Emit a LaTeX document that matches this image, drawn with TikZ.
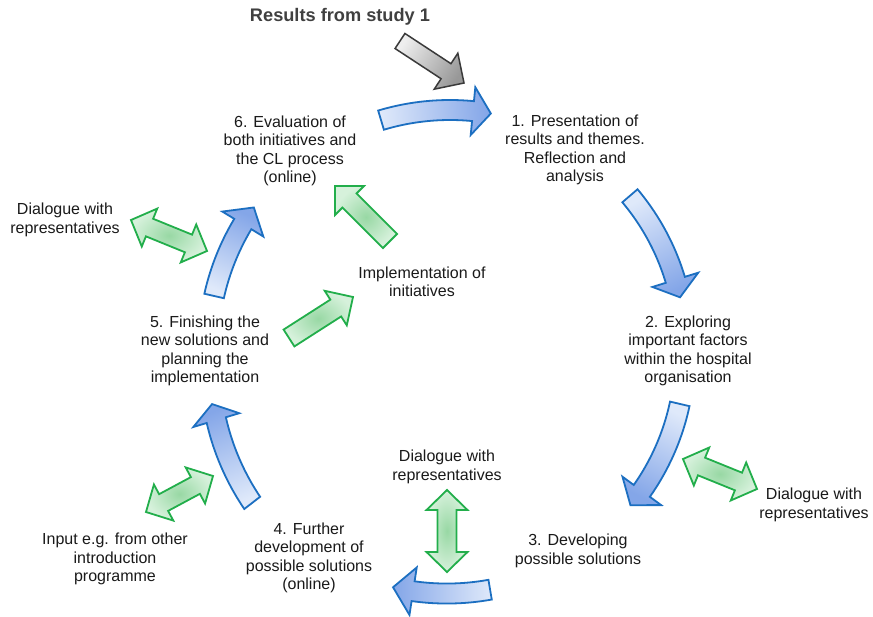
\documentclass[tikz,border=0pt]{standalone}
\usepackage{fontspec}
\setmainfont{Liberation Sans}
\usetikzlibrary{calc}

\definecolor{blueL}{HTML}{DFE9FA}
\definecolor{blueD}{HTML}{84A6E8}
\definecolor{blueS}{HTML}{1C6FC1}
\definecolor{greenL}{HTML}{D6F1DB}
\definecolor{greenM}{HTML}{98D8A4}
\definecolor{greenS}{HTML}{22AE4B}
\definecolor{grayL}{HTML}{EEEEEE}
\definecolor{grayD}{HTML}{989898}
\definecolor{grayS}{HTML}{3A3A3A}
\definecolor{titlegray}{HTML}{404040}
\definecolor{textgray}{HTML}{1A1A1A}

% centre of the cycle and block arrow dimensions
\def\cx{450}
\def\cy{350}
\def\shaftw{10}
\def\headw{24}

% curved block arrow on the cycle
% #1 radius at tail, #2 radius at head, #3 tail angle, #4 head base angle,
% #5 tip angle, #6 shading angle
\newcommand\cyclearrow[6]{%
  \def\rr{((#1)+((#2)-(#1))*(\x-(#3))/((#4)-(#3)))}%
  \path[cyclestep, shading angle=#6]
    plot[domain=#3:#4, samples=40]
      ({\cx+(\rr+\shaftw)*cos(\x)},{\cy+(\rr+\shaftw)*sin(\x)})
    -- ({\cx+(#2+\headw)*cos(#4)},{\cy+(#2+\headw)*sin(#4)})
    -- ({\cx+(#2)*cos(#5)},{\cy+(#2)*sin(#5)})
    -- ({\cx+(#2-\headw)*cos(#4)},{\cy+(#2-\headw)*sin(#4)})
    -- plot[domain=#4:#3, samples=40]
      ({\cx+(\rr-\shaftw)*cos(\x)},{\cy+(\rr-\shaftw)*sin(\x)})
    -- cycle;}

% straight double-headed block arrow between two named tips
\newcommand\twoway[2]{%
  \coordinate (h1) at ($(#1)!20pt!(#2)$);
  \coordinate (h2) at ($(#2)!20pt!(#1)$);
  \path[greenstep] (#1)
    -- ($(h1)!20.5pt!90:(#2)$) -- ($(h1)!9.5pt!90:(#2)$)
    -- ($(h2)!9.5pt!-90:(#1)$) -- ($(h2)!20.5pt!-90:(#1)$)
    -- (#2)
    -- ($(h2)!20.5pt!90:(#1)$) -- ($(h2)!9.5pt!90:(#1)$)
    -- ($(h1)!9.5pt!-90:(#2)$) -- ($(h1)!20.5pt!-90:(#2)$)
    -- cycle;}

% straight single-headed block arrow from tail centre #2 to tip #3
\newcommand\oneway[5]{% #1 style, #2 tail, #3 tip, #4 shaft half width, #5 head half width / length
  \coordinate (hb) at ($(#3)!#5!(#2)$);
  \path[#1] ($(#2)!#4!90:(#3)$) -- ($(hb)!#4!90:(#3)$) -- ($(hb)!#5!90:(#3)$)
    -- (#3)
    -- ($(hb)!#5!-90:(#3)$) -- ($(hb)!#4!-90:(#3)$) -- ($(#2)!#4!-90:(#3)$)
    -- cycle;}

\begin{document}
\begin{tikzpicture}[x=1pt, y=-1pt,
  cyclestep/.style={draw=blueS, line width=1.8pt, top color=blueD, bottom color=blueL},
  greenstep/.style={draw=greenS, line width=1.8pt, inner color=greenM, outer color=greenL},
  graystep/.style={draw=grayS, line width=1.5pt, left color=grayL, right color=grayD, shading angle=-32.7+90},
  lbl/.style={align=center, inner sep=0pt, text=textgray,
    font=\fontsize{16}{18.5}\selectfont},
  title/.style={inner sep=0pt, text=titlegray,
    font=\fontsize{18.2}{21}\selectfont\bfseries}]

\fill[white] (0,0) rectangle (873,616);
\useasboundingbox (0,0) rectangle (873,616);

% incoming arrow from the first study
\coordinate (gt) at (400,41);
\coordinate (gh) at (464,83);
\oneway{graystep}{gt}{gh}{9pt}{21.5pt}

% the six steps of the cycle
\cyclearrow{240}{240}{-106.7}{-84.5}{-80.2}{-85.8}
\cyclearrow{237}{236}{-40.6}{-17.3}{-12.9}{-152.8}
\cyclearrow{236}{238}{13.2}{36.3}{40.7}{-207}
\cyclearrow{243}{244}{80.5}{98.7}{103.5}{90}
\cyclearrow{250}{244}{142.3}{163.3}{167.2}{22}
\cyclearrow{242}{242.5}{192.9}{211.3}{216}{-23.7}

% dialogue and input exchanges
\coordinate (d1a) at (131,220);  \coordinate (d1b) at (207,251);
\coordinate (d2a) at (683,459);  \coordinate (d2b) at (757,489);
\coordinate (d3a) at (447,490);  \coordinate (d3b) at (447,572);
\coordinate (ina) at (146,512);  \coordinate (inb) at (213,476);
\twoway{d1a}{d1b}
\twoway{d2a}{d2b}
\twoway{d3a}{d3b}
\twoway{ina}{inb}

% implementation of initiatives
\coordinate (i1t) at (390,241);  \coordinate (i1h) at (335,186);
\coordinate (i2t) at (289,338);  \coordinate (i2h) at (353,297);
\oneway{greenstep}{i1t}{i1h}{10pt}{20.5pt}
\oneway{greenstep}{i2t}{i2h}{10pt}{20.5pt}

% labels
\node[title] (res) at (340,17) {Results from study 1};
\node[lbl] (s1) at (575,150) {1. Presentation of\\results and themes.\\Reflection and\\analysis};
\node[lbl] (s2) at (688,351) {2. Exploring\\important factors\\within the hospital\\organisation};
\node[lbl] (s3) at (578,551) {3. Developing\\possible solutions};
\node[lbl] (s4) at (309,558) {4. Further\\development of\\possible solutions\\(online)};
\node[lbl] (s5) at (205,351) {5. Finishing the\\new solutions and\\planning the\\implementation};
\node[lbl] (s6) at (290,151) {6. Evaluation of\\both initiatives and\\the CL process\\(online)};
\node[lbl] (imp) at (422,282) {Implementation of\\initiatives};
\node[lbl] (dl1) at (65,220) {Dialogue with\\representatives};
\node[lbl] (dl2) at (447,467) {Dialogue with\\representatives};
\node[lbl] (dl3) at (814,505) {Dialogue with\\representatives};
\node[lbl] (inp) at (115,559) {Input e.g. from other\\introduction\\programme};
\end{tikzpicture}
\end{document}
